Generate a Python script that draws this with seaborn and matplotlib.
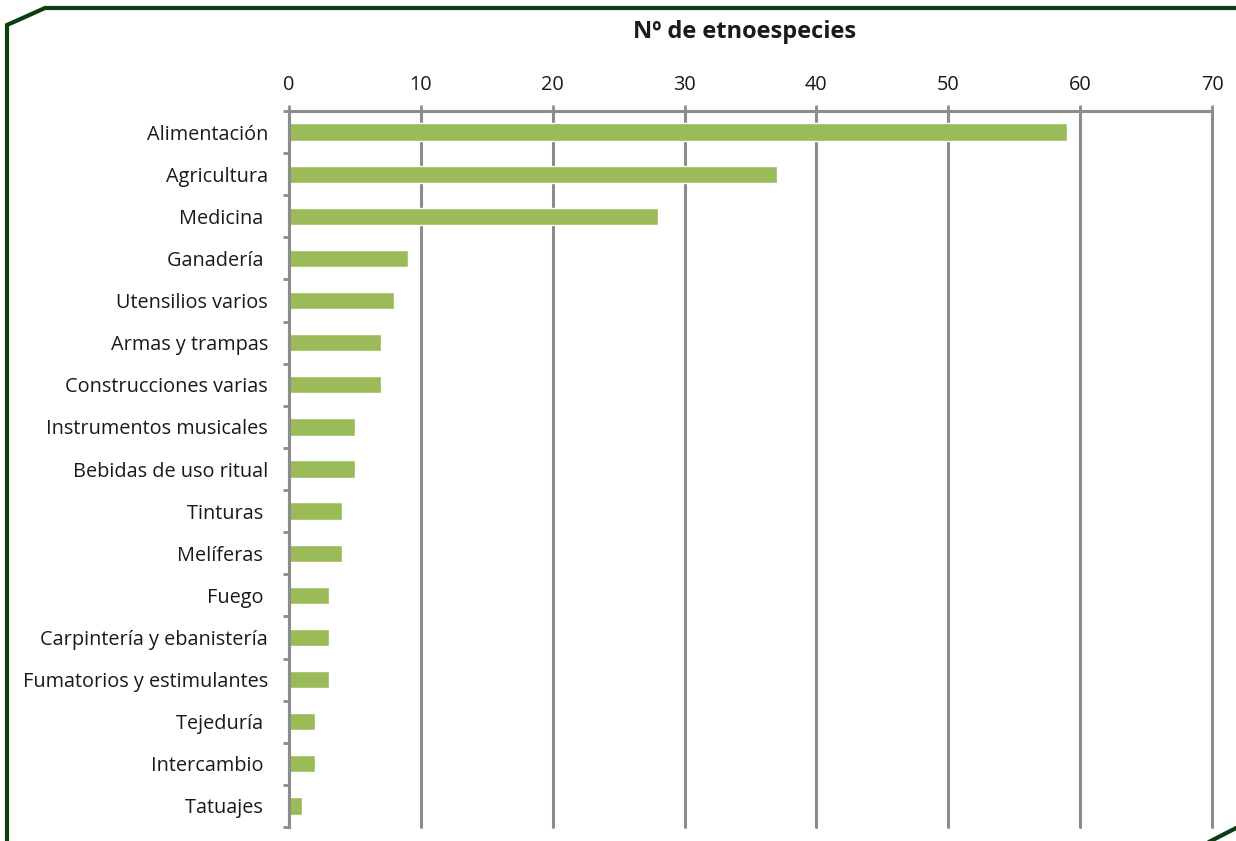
import matplotlib
matplotlib.use("Agg")
import matplotlib.pyplot as plt
from matplotlib.lines import Line2D
import matplotlib.transforms as mtrans
import seaborn as sns
import pandas as pd
import numpy as np

categories = ["Alimentación", "Agricultura", "Medicina ", "Ganadería ", "Utensilios varios",
              "Armas y trampas", "Construcciones varias", "Instrumentos musicales",
              "Bebidas de uso ritual", "Tinturas ", "Melíferas ", "Fuego ",
              "Carpintería y ebanistería", "Fumatorios y estimulantes", "Tejeduría ",
              "Intercambio ", "Tatuajes "]
values = [59, 37, 28, 9, 8, 7, 7, 5, 5, 4, 4, 3, 3, 3, 2, 2, 1]
xticks = [0, 10, 20, 30, 40, 50, 60, 70]
title = "Nº de etnoespecies"

sns.set_theme(style="white")
plt.rcParams['font.family'] = ['Open Sans', 'DejaVu Sans']

W, H = 1236, 841
fig = plt.figure(figsize=(W / 100, H / 100), dpi=100)
ax = fig.add_axes([289 / W, 1 - 827 / H, (1212 - 289) / W, (827 - 111) / H])

df = pd.DataFrame({"cat": categories, "val": values})
sns.barplot(data=df, x="val", y="cat", orient="h", color="#9BBB59", saturation=1,
            width=0.41, ax=ax)

grid_c = "#8C8C8C"
ax.set_xlim(0, 70)
ax.set_ylim(len(categories) - 0.5, -0.5)
ax.set_xticks(xticks)
ax.xaxis.tick_top()
ax.xaxis.set_label_position("top")
ax.tick_params(axis="x", which="major", length=4.5, width=2, color=grid_c,
               labelsize=14.3, pad=7, labelcolor="#1a1a1a")
ax.tick_params(axis="y", which="major", length=0, labelsize=14.3, pad=15,
               labelcolor="#1a1a1a")
ax.set_yticks(np.arange(-0.5, len(categories), 1.0), minor=True)
ax.tick_params(axis="y", which="minor", length=4, width=2, color=grid_c, left=True)
ax.set_xlabel("")
ax.set_ylabel("")
ax.grid(axis="x", color=grid_c, linewidth=2.2)
for gl in ax.get_xgridlines():
    gl.set_clip_on(False)
ax.set_axisbelow(True)
for s in ["bottom", "right"]:
    ax.spines[s].set_visible(False)
for s in ["top", "left"]:
    ax.spines[s].set_color(grid_c)
    ax.spines[s].set_linewidth(2.2)

fig.text(745 / W, 1 - 32 / H, title, ha="center", va="center", fontsize=17,
         fontweight="bold", color="#1a1a1a")

# decorative frame
pix = mtrans.Affine2D().scale(1 / W, -1 / H).translate(0, 1) + fig.transFigure
fc = "#0B3D10"
fig.add_artist(Line2D([7, 7, 45, 1240], [845, 25, 8, 8], color=fc, linewidth=3,
                      transform=pix, solid_joinstyle="miter"))
fig.add_artist(Line2D([1203, 1240], [845, 826], color=fc, linewidth=3, transform=pix))

fig.savefig("out.png", dpi=100)
